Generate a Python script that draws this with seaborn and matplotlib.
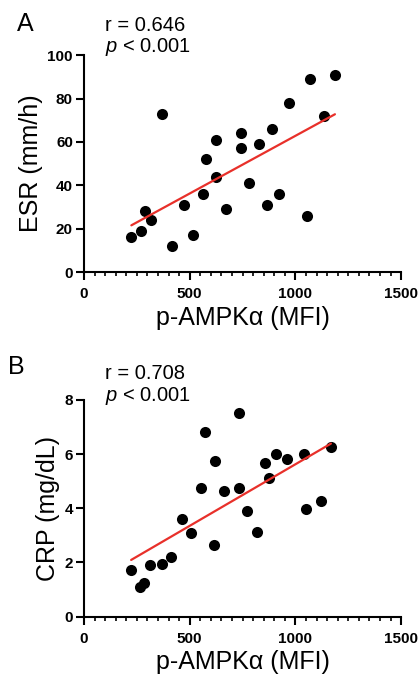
"""
Correlatie p-AMPKa cu ESR si CRP (scatter + regresie liniara).
"""
import numpy as np
import pandas as pd
import matplotlib
matplotlib.use("Agg")
import matplotlib.pyplot as plt
from matplotlib.ticker import MultipleLocator
import seaborn as sns

# Date
esr_ampk = [224, 268, 287, 316, 369, 415, 471, 516, 562, 577, 624, 626, 672,
            744, 743, 781, 830, 864, 890, 921, 971, 1057, 1068, 1137, 1187]
esr_vals = [16, 19, 28, 24, 73, 12, 31, 17, 36, 52, 61, 44, 29,
            64, 57, 41, 59, 31, 66, 36, 78, 26, 89, 72, 91]

crp_ampk = [223, 264, 286, 314, 368, 413, 465, 508, 555, 571, 615, 618, 662,
            733, 734, 770, 817, 854, 877, 909, 959, 1042, 1052, 1121, 1168]
crp_vals = [1.72, 1.08, 1.23, 1.91, 1.94, 2.20, 3.61, 3.09, 4.74, 6.81, 2.66, 5.76, 4.62,
            4.76, 7.51, 3.89, 3.14, 5.66, 5.11, 5.99, 5.81, 5.99, 3.98, 4.26, 6.26]

# litera, text r, eticheta y, x, y, ymax, pas y, (x litera, y litera, y r, y p)
panels = [
    ("A", "r = 0.646", "ESR (mm/h)", esr_ampk, esr_vals, 100, 20, (0.04, 0.965, 0.962, 0.931)),
    ("B", "r = 0.708", "CRP (mg/dL)", crp_ampk, crp_vals, 8, 2, (0.018, 0.462, 0.453, 0.419)),
]

sns.set_theme(style="ticks")
plt.rcParams["font.family"] = ["Liberation Sans", "DejaVu Sans"]
plt.rcParams["mathtext.fontset"] = "custom"
plt.rcParams["mathtext.it"] = "Liberation Sans:italic"
plt.rcParams["mathtext.rm"] = "Liberation Sans"
for k in ["text.color", "axes.labelcolor", "xtick.color", "ytick.color"]:
    plt.rcParams[k] = "black"

fig = plt.figure(figsize=(4.2, 6.82), dpi=100)
boxes = [[0.20, 0.601, 0.755, 0.318], [0.20, 0.0958, 0.755, 0.318]]

for (letter, rtxt, ylabel, xs, ys, ymax, ystep, tpos), box in zip(panels, boxes):
    ax = fig.add_axes(box)
    df = pd.DataFrame({"x": xs, "y": ys})
    sns.regplot(data=df, x="x", y="y", ax=ax, ci=None, truncate=True,
                scatter_kws={"s": 64, "color": "black", "alpha": 1, "linewidths": 0},
                line_kws={"color": "#e8302a", "lw": 1.6})
    ax.set_xlim(0, 1500)
    ax.set_ylim(0, ymax)
    ax.xaxis.set_major_locator(MultipleLocator(500))
    ax.xaxis.set_minor_locator(MultipleLocator(50))
    ax.yaxis.set_major_locator(MultipleLocator(ystep))
    sns.despine(ax=ax)
    for s in ["left", "bottom"]:
        ax.spines[s].set_linewidth(1.5)
        ax.spines[s].set_color("black")
    ax.tick_params(which="major", length=6, width=1.5, color="black",
                   labelsize=11, pad=2)
    ax.tick_params(axis="x", which="major", pad=5)
    ax.tick_params(which="minor", length=3, width=1.2, color="black")
    for lab in ax.get_xticklabels() + ax.get_yticklabels():
        lab.set_fontweight("bold")
    ax.set_xlabel("p-AMPK\u03b1 (MFI)", fontsize=18, labelpad=3)
    ax.set_ylabel(ylabel, fontsize=18, labelpad=3)
    for c in ax.collections:
        c.set_clip_on(False)

    lx, ly, ry, py = tpos
    fig.text(lx, ly, letter, fontsize=18, va="center")
    fig.text(0.25, ry, rtxt, fontsize=14.5, va="center")
    fig.text(0.25, py, r"$\it{p}$ < 0.001", fontsize=14.5, va="center")

plt.savefig("out.png", dpi=100)
plt.close()
